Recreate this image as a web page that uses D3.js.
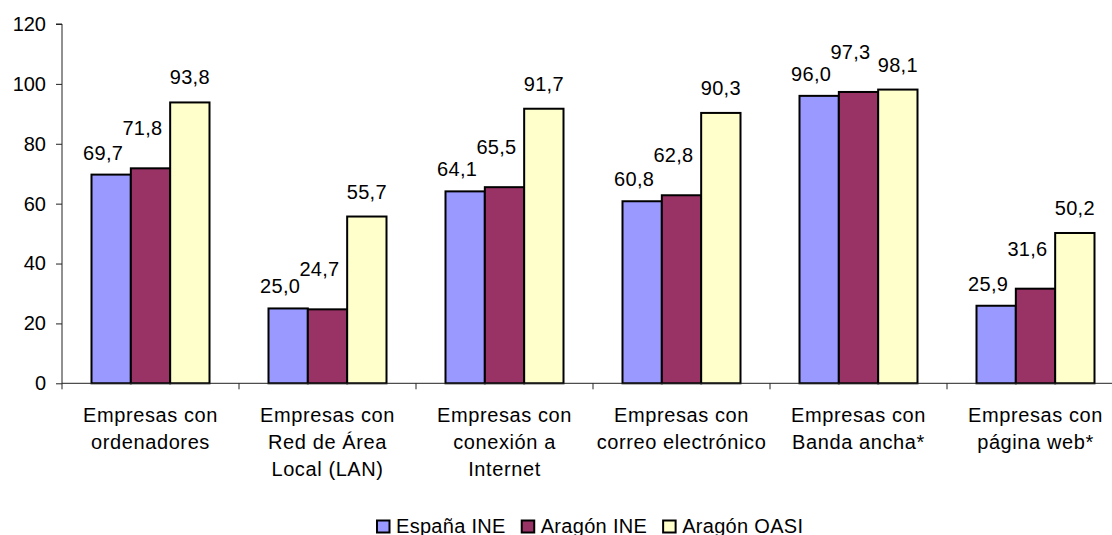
<!DOCTYPE html>
<html>
<head>
<meta charset="utf-8">
<script src="https://cdn.jsdelivr.net/npm/d3@7"></script>
<style>
  html, body { margin: 0; padding: 0; background: #fff; }
  svg { display: block; font-family: "Liberation Sans", Arial, sans-serif; }
</style>
</head>
<body>
<svg id="chart" width="1112" height="535"></svg>
<script>
// ---- data ----
const categories = [
  ["Empresas con", "ordenadores"],
  ["Empresas con", "Red de Área", "Local (LAN)"],
  ["Empresas con", "conexión a", "Internet"],
  ["Empresas con", "correo electrónico"],
  ["Empresas con", "Banda ancha*"],
  ["Empresas con", "página web*"]
];
const seriesNames = ["España INE", "Aragón INE", "Aragón OASI"];
const espanaINE  = [69.7, 25.0, 64.1, 60.8, 96.0, 25.9];
const aragonINE  = [71.8, 24.7, 65.5, 62.8, 97.3, 31.6];
const aragonOASI = [93.8, 55.7, 91.7, 90.3, 98.1, 50.2];
const yTicks = [0, 20, 40, 60, 80, 100, 120];

// ---- styles ----
const colors = ["#9999FF", "#993366", "#FFFFCC"];
const labelDx = [-8, -8, 0];
const labelDy = [-22, -40, -25];

const values = [espanaINE, aragonINE, aragonOASI];
const svg = d3.select("#chart");
const fontSize = 20;
const ff = "'Liberation Sans', Arial, sans-serif";

const x0 = d3.scaleBand().domain(d3.range(categories.length)).range([62, 1124]);
const bw = x0.bandwidth();
const x1 = d3.scaleBand().domain(d3.range(seriesNames.length)).range([bw / 6, bw * 5 / 6]);
const y = d3.scaleLinear().domain([0, 120]).range([383.3, 24]);

// y axis
const yAxis = svg.append("g").attr("transform", "translate(62,0)")
  .call(d3.axisLeft(y).tickValues(yTicks).tickSize(6).tickPadding(10).tickFormat(d3.format("d")));
yAxis.selectAll("text").attr("font-size", fontSize).attr("fill", "#000").attr("font-family", ff);
yAxis.selectAll("line").attr("stroke", "#222");
yAxis.select(".domain").attr("stroke", "#222").attr("d", `M-6,${y(120)}H0V${y(0)}`);

// bars
const groups = svg.append("g").selectAll("g").data(categories).join("g")
  .attr("transform", (d, i) => `translate(${x0(i)},0)`);

groups.selectAll("rect").data((d, i) => values.map((s, k) => ({k, v: s[i]}))).join("rect")
  .attr("x", d => x1(d.k))
  .attr("width", x1.bandwidth())
  .attr("y", d => y(d.v))
  .attr("height", d => y(0) - y(d.v))
  .attr("fill", d => colors[d.k])
  .attr("stroke", "#000")
  .attr("stroke-width", 2);

groups.selectAll("text.val").data((d, i) => values.map((s, k) => ({k, v: s[i]}))).join("text")
  .attr("class", "val")
  .attr("x", d => x1(d.k) + x1.bandwidth() / 2 + labelDx[d.k])
  .attr("y", d => y(d.v) + labelDy[d.k])
  .attr("dy", "0.35em")
  .attr("text-anchor", "middle")
  .attr("font-size", fontSize)
  .attr("letter-spacing", "0.3px")
  .attr("fill", "#000")
  .text(d => d3.format(".1f")(d.v).replace(".", ","));

// x axis
const xAxisG = svg.append("g");
xAxisG.append("line").attr("x1", 62).attr("x2", 1124).attr("y1", y(0)).attr("y2", y(0))
  .attr("stroke", "#222");
xAxisG.selectAll("line.tick").data(d3.range(categories.length + 1)).join("line")
  .attr("class", "tick")
  .attr("x1", i => 62 + i * bw).attr("x2", i => 62 + i * bw)
  .attr("y1", y(0)).attr("y2", y(0) + 6).attr("stroke", "#222");

const catLabels = svg.append("g").selectAll("text").data(categories).join("text")
  .attr("text-anchor", "middle")
  .attr("font-size", fontSize)
  .attr("letter-spacing", "0.6px")
  .attr("fill", "#000")
  .attr("transform", (d, i) => `translate(${x0(i) + bw / 2},422)`);
catLabels.selectAll("tspan").data(d => d).join("tspan")
  .attr("x", 0).attr("y", (d, j) => j * 27).text(d => d);

// legend
const legend = svg.append("g");
let lx = 377;
seriesNames.forEach((name, k) => {
  legend.append("rect").attr("x", lx).attr("y", 520.5).attr("width", 12.5).attr("height", 12)
    .attr("fill", colors[k]).attr("stroke", "#000").attr("stroke-width", 2);
  const t = legend.append("text").attr("x", lx + 19).attr("y", 533)
    .attr("font-size", fontSize).attr("letter-spacing", "0.3px").attr("fill", "#000").text(name);
  lx += 19 + t.node().getComputedTextLength() + 16;
});
</script>
</body>
</html>
